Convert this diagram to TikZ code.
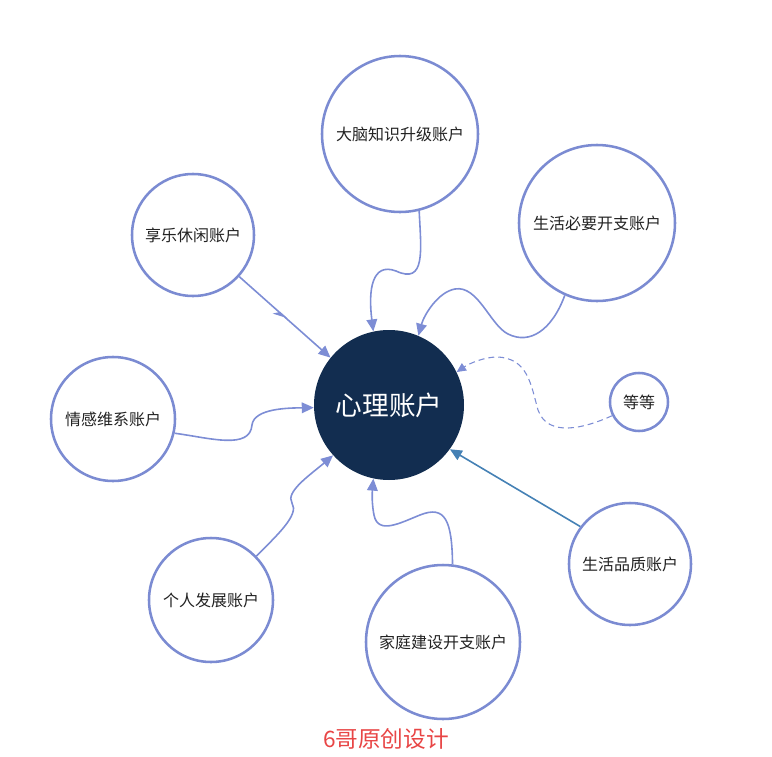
\documentclass[tikz,border=0pt]{standalone}
\usepackage{fontspec}
\newfontfamily\cjk{Noto Sans CJK SC}
\usetikzlibrary{arrows.meta,decorations.markings}
\definecolor{ring}{HTML}{7B8BD2}
\definecolor{link}{HTML}{7D8DD5}
\definecolor{steel}{HTML}{4581B5}
\definecolor{core}{HTML}{122D50}
\definecolor{txt}{HTML}{222222}
\definecolor{sig}{HTML}{E84545}
\tikzset{
  acct/.style={circle, draw=ring, line width=1.9pt, fill=white, inner sep=0pt,
    font=\cjk\fontsize{12pt}{14pt}\selectfont, text=txt},
  link/.style={draw=link, line width=1.2pt, -{Triangle[length=9pt,width=8pt]}},
  dashlink/.style={draw=link, line width=0.8pt, dash pattern=on 4.5pt off 3pt,
    -{Triangle[length=7pt,width=6.5pt]}},
}
\begin{document}
\begin{tikzpicture}[x=0.75pt,y=-0.75pt]
\useasboundingbox (0,0) rectangle (772,757);
% nodes
\node[circle, fill=core, minimum size=112.5pt, inner sep=0pt, text=white,
  font=\cjk\fontsize{20pt}{22pt}\selectfont] (c) at (389,405) {心理账户};
\node[acct, minimum size=117pt] (brain) at (400,134) {大脑知识升级账户};
\node[acct, minimum size=117pt] (need) at (597,223) {生活必要开支账户};
\node[acct, minimum size=91.5pt] (fun) at (193,235) {享乐休闲账户};
\node[acct, minimum size=93pt] (emo) at (113,419) {情感维系账户};
\node[acct, minimum size=43.5pt] (etc) at (639,402) {等等};
\node[acct, minimum size=93pt] (dev) at (211,600) {个人发展账户};
\node[acct, minimum size=115.5pt] (home) at (443,642) {家庭建设开支账户};
\node[acct, minimum size=91.5pt] (qual) at (630,564) {生活品质账户};
\node[text=sig, font=\cjk\fontsize{17pt}{19pt}\selectfont] (sign) at (386,739) {6哥原创设计};
% connectors
\draw[link] (brain.-76) .. controls (421,250) and (426,285) .. (396,271)
  .. controls (372,262) and (368,290) .. (c.102);
\draw[link] (need.-114) .. controls (552,330) and (530,345) .. (508,334)
  .. controls (490,325) and (478,285) .. (455,289)
  .. controls (438,292) and (424,315) .. (c.67);
\draw[link, postaction={decorate}, decoration={markings,
  mark=at position 0.52 with {\arrow{Stealth[length=9pt,width=8pt,harpoon,swap]}}}]
  (fun.-42) -- (c.141);
\draw[link] (emo.-13) .. controls (210,438) and (250,450) .. (252,425)
  .. controls (254,408) and (290,408) .. (c.182);
\draw[link] (dev.44) .. controls (275,537) and (300,515) .. (292,503)
  .. controls (285,492) and (310,475) .. (c.222);
\draw[link] (home.83) .. controls (452,520) and (445,505) .. (420,515)
  .. controls (400,523) and (378,535) .. (374,515)
  .. controls (372,505) and (372,495) .. (c.-102);
\draw[link, draw=steel, -{Triangle[length=9pt,width=8pt,fill=steel]}] (qual.143) -- (c.-36);
\draw[dashlink] (etc.207) .. controls (585,428) and (548,438) .. (538,410)
  .. controls (531,385) and (528,358) .. (497,357)
  .. controls (485,357) and (470,363) .. (c.26);
\end{tikzpicture}
\end{document}
